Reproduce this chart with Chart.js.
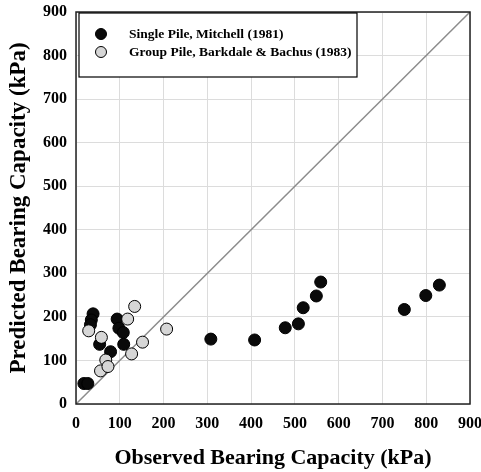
<!DOCTYPE html>
<html>
<head>
<meta charset="utf-8">
<script src="https://cdn.jsdelivr.net/npm/chart.js@4"></script>
<style>
html,body{margin:0;padding:0;background:#fff;}
#wrap{width:481px;height:472px;position:relative;}
</style>
</head>
<body>
<div id="wrap"><canvas id="c" width="481" height="472"></canvas></div>
<script>
const singleLabel = "Single Pile, Mitchell (1981)";
const groupLabel = "Group Pile, Barkdale & Bachus (1983)";
const singleX = [18, 27, 39, 35, 33, 54, 79, 94, 98, 108, 109, 308, 408, 478, 508, 519, 549, 559, 750, 799, 830];
const singleY = [47, 47, 207, 193, 182, 137, 120, 195, 174, 164, 137, 149, 147, 175, 184, 221, 248, 280, 217, 249, 273];
const groupX = [29, 58, 56, 68, 73, 118, 134, 127, 152, 207];
const groupY = [168, 153, 76, 101, 86, 195, 224, 115, 142, 172];
const lineX = [0, 900];
const lineY = [0, 900];
const xTitle = "Observed Bearing Capacity (kPa)";
const yTitle = "Predicted Bearing Capacity (kPa)";

const toPts = (xs, ys) => xs.map((x, i) => ({x: x, y: ys[i]}));
const FONT = "'Liberation Serif', 'Times New Roman', serif";

const frame = {
  id: 'frame',
  afterDraw(chart) {
    const {ctx, chartArea: a} = chart;
    ctx.save();
    ctx.strokeStyle = '#222';
    ctx.lineWidth = 1.5;
    ctx.strokeRect(a.left, a.top, a.right - a.left, a.bottom - a.top);
    // legend box
    const lx = 79, ly = 13, lw = 278, lh = 64;
    ctx.fillStyle = '#fff';
    ctx.fillRect(lx, ly, lw, lh);
    ctx.strokeStyle = '#000';
    ctx.lineWidth = 1.2;
    ctx.strokeRect(lx, ly, lw, lh);
    const items = [
      {label: singleLabel, fill: '#0a0a0a', y: 34},
      {label: groupLabel, fill: '#d6d6d6', y: 52}
    ];
    ctx.font = "bold 13.5px " + FONT;
    ctx.textBaseline = 'middle';
    items.forEach(it => {
      ctx.beginPath();
      ctx.arc(101, it.y, 5.5, 0, Math.PI * 2);
      ctx.fillStyle = it.fill;
      ctx.fill();
      ctx.lineWidth = 1;
      ctx.strokeStyle = '#000';
      ctx.stroke();
      ctx.fillStyle = '#000';
      ctx.textAlign = 'left';
      ctx.fillText(it.label, 129, it.y + 1);
    });
    ctx.restore();
  }
};

new Chart(document.getElementById('c'), {
  type: 'scatter',
  data: {
    datasets: [
      {
        label: 'line',
        data: toPts(lineX, lineY),
        showLine: true,
        borderColor: '#8c8c8c',
        borderWidth: 1.5,
        pointRadius: 0,
        order: 3
      },
      {
        label: singleLabel,
        data: toPts(singleX, singleY),
        backgroundColor: '#0a0a0a',
        borderColor: '#000',
        borderWidth: 1,
        pointRadius: 6,
        order: 2
      },
      {
        label: groupLabel,
        data: toPts(groupX, groupY),
        backgroundColor: '#d6d6d6',
        borderColor: '#000',
        borderWidth: 1,
        pointRadius: 6,
        order: 1
      }
    ]
  },
  options: {
    responsive: false,
    animation: false,
    layout: {padding: {left: 0, right: 11, top: 12, bottom: 0}},
    plugins: {legend: {display: false}, tooltip: {enabled: false}},
    scales: {
      x: {
        type: 'linear', min: 0, max: 900,
        ticks: {stepSize: 100, color: '#000', padding: 10, font: {family: FONT, size: 16, weight: 'bold'}},
        grid: {color: '#dcdcdc', lineWidth: 1, drawTicks: false},
        border: {display: false},
        title: {display: true, text: xTitle, color: '#000', font: {family: FONT, size: 22, weight: 'bold'}, padding: {top: 10, bottom: 0}},
        afterFit(s) { s.height = 68; s.paddingLeft = 0; s.paddingRight = 0; }
      },
      y: {
        type: 'linear', min: 0, max: 900,
        ticks: {stepSize: 100, color: '#000', padding: 9, font: {family: FONT, size: 16, weight: 'bold'}},
        grid: {color: '#dcdcdc', lineWidth: 1, drawTicks: false},
        border: {display: false},
        title: {display: true, text: yTitle, color: '#000', font: {family: FONT, size: 23, weight: 'bold'}, padding: {top: 5, bottom: 6}},
        afterFit(s) { s.width = 76; s.paddingTop = 0; s.paddingBottom = 0; }
      }
    }
  },
  plugins: [frame]
});
</script>
</body>
</html>
